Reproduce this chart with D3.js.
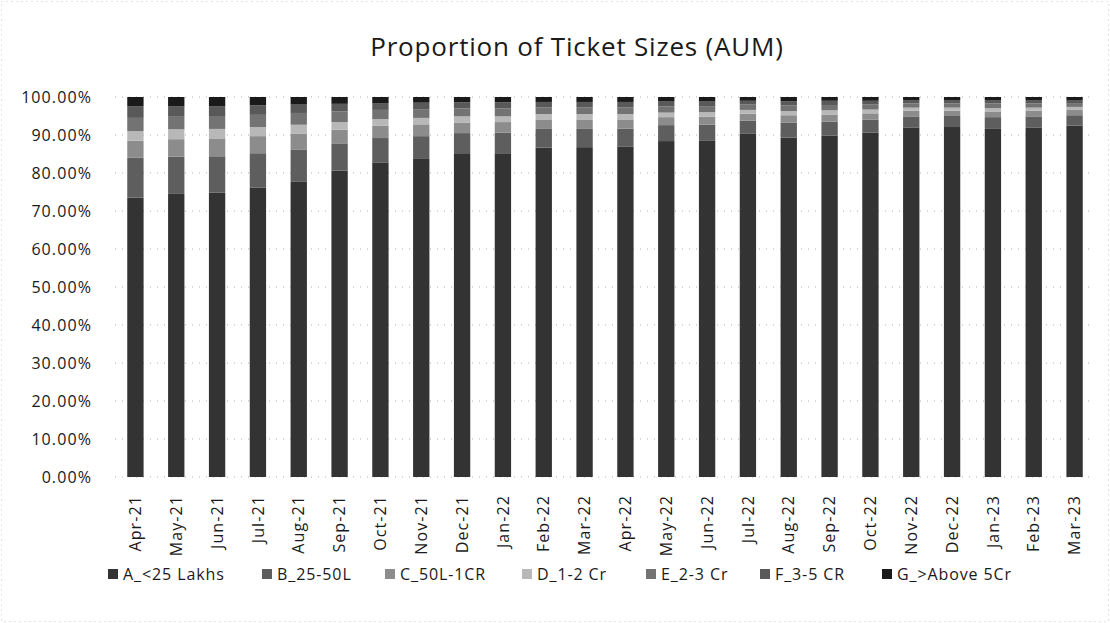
<!DOCTYPE html>
<html>
<head>
<meta charset="utf-8">
<script src="https://cdn.jsdelivr.net/npm/d3@7/dist/d3.min.js"></script>
<style>
  html, body { margin: 0; padding: 0; background: #fff; }
  svg { display: block; font-family: "Open Sans", "DejaVu Sans", sans-serif; }
</style>
</head>
<body>
<svg id="chart" width="1110" height="623"></svg>
<script>
// Months on the x axis
const months = ["Apr-21","May-21","Jun-21","Jul-21","Aug-21","Sep-21","Oct-21","Nov-21","Dec-21",
  "Jan-22","Feb-22","Mar-22","Apr-22","May-22","Jun-22","Jul-22","Aug-22","Sep-22","Oct-22",
  "Nov-22","Dec-22","Jan-23","Feb-23","Mar-23"];

// Ticket-size buckets (stack order, bottom to top)
const buckets = ["A_<25 Lakhs","B_25-50L","C_50L-1CR","D_1-2 Cr","E_2-3 Cr","F_3-5 CR","G_>Above 5Cr"];

// Share of AUM per bucket, in percent, one value per month
const shareA = [73.5,74.5,74.8,76.2,77.8,80.6,82.8,83.7,85.0,85.2,86.7,86.8,87.0,88.4,88.6,90.3,89.3,89.8,90.6,92.0,92.1,91.6,92.0,92.5];
const shareB = [10.5,9.8,9.6,9.0,8.4,7.2,6.4,6.0,5.5,5.4,4.9,4.8,4.7,4.2,4.1,3.5,3.9,3.7,3.4,2.9,2.9,3.1,2.9,2.7];
const shareC = [4.5,4.6,4.7,4.5,4.2,3.6,3.2,3.1,2.8,2.8,2.5,2.5,2.4,2.1,2.1,1.8,2.0,1.9,1.7,1.5,1.4,1.5,1.5,1.4];
const shareD = [2.5,2.6,2.5,2.4,2.3,2.0,1.8,1.7,1.6,1.5,1.4,1.4,1.4,1.2,1.2,1.0,1.1,1.1,1.0,0.8,0.8,0.9,0.8,0.8];
const shareE = [3.5,3.3,3.4,3.2,3.1,2.8,2.4,2.3,2.1,2.1,1.8,1.8,1.8,1.6,1.6,1.4,1.5,1.4,1.3,1.1,1.1,1.2,1.1,1.0];
const shareF = [3.0,2.7,2.6,2.5,2.2,2.0,1.8,1.7,1.6,1.6,1.4,1.4,1.4,1.3,1.2,1.0,1.1,1.1,1.0,0.9,0.9,0.9,0.9,0.8];
const shareG = [2.5,2.5,2.4,2.2,2.0,1.8,1.6,1.5,1.4,1.4,1.3,1.3,1.3,1.2,1.2,1.0,1.1,1.0,1.0,0.8,0.8,0.8,0.8,0.8];

// Y axis tick values and labels
const yTicks = [0,10,20,30,40,50,60,70,80,90,100];
const yTickLabels = ["0.00%","10.00%","20.00%","30.00%","40.00%","50.00%","60.00%","70.00%","80.00%","90.00%","100.00%"];

const fills = ["#333333","#5e5e5e","#8c8c8c","#b8b8b8","#737373","#595959","#1a1a1a"];

const allShares = [shareA, shareB, shareC, shareD, shareE, shareF, shareG];
const rows = months.map((m, i) => {
  const r = { month: m };
  buckets.forEach((b, k) => { r[b] = allShares[k][i]; });
  return r;
});

const svg = d3.select("#chart");
const W = 1110, H = 623;
const plot = { left: 115, right: 1095, top: 97, bottom: 477 };
const textColor = "#1a1a1a";

// Chart area outline
svg.append("rect")
  .attr("x", 1.5).attr("y", 1.5).attr("width", W - 3).attr("height", H - 3)
  .attr("fill", "none").attr("stroke", "#c8c8c8").attr("stroke-dasharray", "1,4");

const x = d3.scaleBand().domain(months).range([plot.left, plot.right]).paddingInner(0.6).paddingOuter(0.3);
const y = d3.scaleLinear().domain([0, 100]).range([plot.bottom, plot.top]);

// Title
svg.append("text")
  .attr("x", 577).attr("y", 56)
  .attr("text-anchor", "middle")
  .attr("font-size", 26).attr("letter-spacing", 0.8).attr("fill", textColor)
  .text("Proportion of Ticket Sizes (AUM)");

// Horizontal gridlines
svg.append("g").selectAll("line").data(yTicks).join("line")
  .attr("x1", plot.left).attr("x2", plot.right)
  .attr("y1", d => y(d)).attr("y2", d => y(d))
  .attr("stroke", "#b0b0b0").attr("stroke-width", 1)
  .attr("stroke-dasharray", "1,6");

// Y axis labels
const yAxis = d3.axisLeft(y).tickValues(yTicks).tickSize(0).tickPadding(0)
  .tickFormat((d, i) => yTickLabels[i]);
const gy = svg.append("g").attr("transform", `translate(92,0)`).call(yAxis);
gy.select(".domain").remove();
gy.selectAll("text").attr("font-size", 16).attr("letter-spacing", 1.1).attr("fill", textColor)
  .attr("font-family", "\"Open Sans\", sans-serif");

// Stacked bars
const stack = d3.stack().keys(buckets);
const layers = stack(rows);
svg.append("g").selectAll("g").data(layers).join("g")
  .attr("fill", (d, i) => fills[i])
  .selectAll("rect").data(d => d).join("rect")
  .attr("x", d => x(d.data.month))
  .attr("width", x.bandwidth())
  .attr("y", d => y(d[1]))
  .attr("height", d => y(d[0]) - y(d[1]));

// X axis labels (rotated)
const xAxis = d3.axisBottom(x).tickSize(0).tickPadding(0);
const gx = svg.append("g").attr("transform", `translate(0,${plot.bottom})`).call(xAxis);
gx.select(".domain").remove();
gx.selectAll("text")
  .attr("font-size", 16).attr("letter-spacing", 1.1).attr("fill", textColor)
  .attr("font-family", "\"Open Sans\", sans-serif")
  .attr("transform", "rotate(-90)")
  .attr("text-anchor", "end")
  .attr("x", -18).attr("y", 0).attr("dy", "0.35em");

// Legend
const legendX = [108, 262, 385, 522, 646, 760, 882];
const lg = svg.append("g").selectAll("g").data(buckets).join("g")
  .attr("transform", (d, i) => `translate(${legendX[i]},574)`);
lg.append("rect").attr("x", 0).attr("y", -5).attr("width", 10).attr("height", 10)
  .attr("fill", (d, i) => fills[i]);
lg.append("text").attr("x", 15).attr("y", 0).attr("dy", "0.35em")
  .attr("font-size", 16).attr("letter-spacing", 0.9).attr("fill", textColor)
  .text(d => d);
</script>
</body>
</html>
